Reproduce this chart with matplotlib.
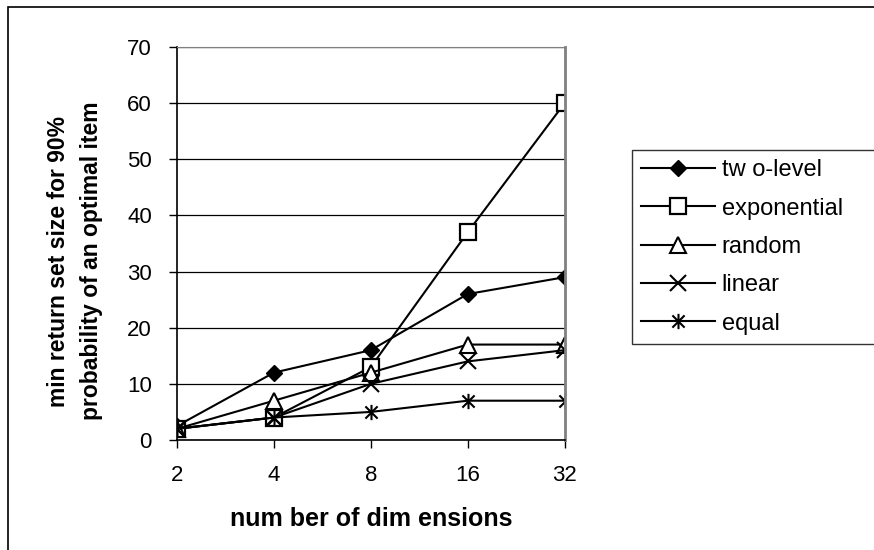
import matplotlib.pyplot as plt
from matplotlib.path import Path
import matplotlib.patches as mpatches

plt.rcParams['font.family'] = ['Liberation Sans', 'DejaVu Sans']

# data
dims = ['2', '4', '8', '16', '32']
two_level = [2.5, 12, 16, 26, 29]
exponential = [2, 4, 13, 37, 60]
random_ = [2, 7, 12, 17, 17]
linear = [2, 4, 10, 14, 16]
equal = [2, 4, 5, 7, 7]

# excel style star: x with a vertical bar
star = Path([(-1, -1), (1, 1), (-1, 1), (1, -1), (0, -1.25), (0, 1.25)],
            [Path.MOVETO, Path.LINETO, Path.MOVETO, Path.LINETO, Path.MOVETO, Path.LINETO])

fig = plt.figure(figsize=(8.74, 5.5), dpi=100)
ax = fig.add_axes([0.2025, 0.2, 0.4435, 0.7145])

x = range(len(dims))
kw = dict(color='black', lw=1.5)
ax.plot(x, two_level, marker='D', ms=8.5, mfc='black', mec='black', label='tw o-level', **kw)
ax.plot(x, exponential, marker='s', ms=11, mfc='white', mec='black', mew=1.6, label='exponential', **kw)
ax.plot(x, random_, marker='^', ms=11, mfc='white', mec='black', mew=1.5, label='random', **kw)
ax.plot(x, linear, marker='x', ms=11, mec='black', mew=1.5, label='linear', **kw)
ax.plot(x, equal, marker=star, ms=11, mfc='none', mec='black', mew=1.5, label='equal', **kw)

ax.set_xlim(0, 4)
ax.set_ylim(0, 70)
ax.set_yticks(range(0, 71, 10))
ax.set_xticks(list(x))
ax.set_xticklabels(dims)
ax.yaxis.grid(True, color='black', lw=0.9)
ax.set_axisbelow(True)
ax.tick_params(axis='both', direction='out', length=6, width=1, labelsize=16, color='black')
ax.tick_params(axis='x', pad=12)
ax.tick_params(axis='y', pad=12)
ax.spines['top'].set_color('gray')
ax.spines['right'].set_color('gray')
ax.spines['right'].set_linewidth(2)
ax.spines['left'].set_linewidth(1.2)
ax.spines['bottom'].set_linewidth(1.2)

ax.set_xlabel('num ber of dim ensions', fontsize=18, fontweight='bold')
ax.xaxis.set_label_coords(0.5, -0.17)
ax.set_ylabel('min return set size for 90%\nprobability of an optimal item',
              fontsize=16.5, fontweight='bold', linespacing=1.6)
ax.yaxis.set_label_coords(-0.19, 0.455)

leg_h = (341 - 150) / 550
leg = ax.legend(loc='upper left', mode='expand',
                bbox_to_anchor=(632 / 874, 1 - 150 / 550 - leg_h, (890 - 632) / 874, leg_h),
                bbox_transform=fig.transFigure, frameon=True, fancybox=False,
                edgecolor='black', fontsize=17, handlelength=3.1, labelspacing=0.69,
                borderpad=0.4, handletextpad=0.3, borderaxespad=0)
leg.get_frame().set_linewidth(1.0)

# outer chart frame
fig.patches.append(mpatches.Rectangle((8 / 874, -0.1), 1.2, 1 - 7 / 550 + 0.1,
                                      transform=fig.transFigure, fill=False,
                                      edgecolor='black', lw=1.2))

fig.savefig('out.png', dpi=100)
